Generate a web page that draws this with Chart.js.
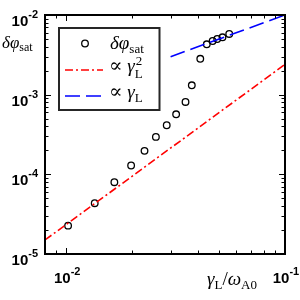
<!DOCTYPE html>
<html>
<head>
<meta charset="utf-8">
<script src="https://cdn.jsdelivr.net/npm/chart.js@4"></script>
<style>
html, body { margin: 0; padding: 0; background: #fff; }
#wrap { width: 300px; height: 300px; }
</style>
</head>
<body>
<div id="wrap"><canvas id="chart"></canvas></div>
<script>
// values (log-log axes)
const gammaL = [0.0102, 0.0135, 0.0166, 0.0198, 0.0228, 0.0257, 0.0288, 0.0318,
                0.0351, 0.0375, 0.0410, 0.0439, 0.0467, 0.0490, 0.0518, 0.0556];
const dPhiSat = [2.27e-5, 4.34e-5, 7.97e-5, 1.29e-4, 1.97e-4, 2.95e-4, 4.13e-4, 5.67e-4,
                 8.1e-4, 1.31e-3, 2.82e-3, 4.29e-3, 4.72e-3, 5.0e-3, 5.25e-3, 5.78e-3];
// guide lines, end points only
const quadX = [0.008, 0.1];
const quadY = [1.5e-5, 2.4e-3];
const linX = [0.03, 0.1];
const linY = [3.0e-3, 1.0e-2];
// labelled decades
const xTickVals = [1e-2, 1e-1];
const yTickVals = [1e-5, 1e-4, 1e-3, 1e-2];

const SERIF = '"Liberation Serif", "DejaVu Serif", serif';
const SANS = '"Liberation Sans", Arial, sans-serif';
const RED_DASH = [8, 3, 2, 3];
const BLUE_DASH = [15, 6];

function toPts(xs, ys) {
    return xs.map((x, i) => ({ x: x, y: ys[i] }));
}

// draw a run of text pieces: [text, font, dy]
function drawRun(ctx, x, y, parts) {
    parts.forEach(p => {
        ctx.font = p[1];
        ctx.fillText(p[0], x, y + (p[2] || 0));
        x += ctx.measureText(p[0]).width;
    });
    return x;
}
function runWidth(ctx, parts) {
    let w = 0;
    parts.forEach(p => { ctx.font = p[1]; w += ctx.measureText(p[0]).width; });
    return w;
}
function decadeParts(v) {
    const e = Math.round(Math.log10(v));
    return [['10', 'bold 15px ' + SANS, 0], [String(e), 'bold 11px ' + SANS, -8]];
}

const framePlugin = {
    id: 'frame',
    afterDraw(chart) {
        const ctx = chart.ctx;
        const a = chart.chartArea;
        const xs = chart.scales.x, ys = chart.scales.y;
        ctx.save();
        ctx.fillStyle = '#000';
        ctx.strokeStyle = '#000';

        // minor / major ticks, inside, on all four sides
        ctx.lineWidth = 1;
        ctx.beginPath();
        for (let d = -3; d <= -1; d++) {
            for (let k = 1; k <= 9; k++) {
                const v = k * Math.pow(10, d);
                if (v < xs.min * 0.999 || v > xs.max * 1.001) continue;
                const px = Math.round(xs.getPixelForValue(v)) + 0.5;
                const len = k === 1 ? 6 : 3.5;
                ctx.moveTo(px, a.bottom); ctx.lineTo(px, a.bottom - len);
                ctx.moveTo(px, a.top); ctx.lineTo(px, a.top + len);
            }
        }
        for (let d = -5; d <= -2; d++) {
            for (let k = 1; k <= 9; k++) {
                const v = k * Math.pow(10, d);
                if (v < ys.min * 0.999 || v > ys.max * 1.001) continue;
                const py = Math.round(ys.getPixelForValue(v)) + 0.5;
                const len = k === 1 ? 6 : 3.5;
                ctx.moveTo(a.left, py); ctx.lineTo(a.left + len, py);
                ctx.moveTo(a.right, py); ctx.lineTo(a.right - len, py);
            }
        }
        ctx.stroke();

        // axes box
        ctx.lineWidth = 2;
        ctx.strokeRect(a.left, a.top, a.right - a.left, a.bottom - a.top);

        // tick labels
        ctx.textBaseline = 'alphabetic';
        yTickVals.forEach(v => {
            const py = ys.getPixelForValue(v);
            const parts = decadeParts(v);
            const w = runWidth(ctx, parts);
            drawRun(ctx, a.left - 7 - w, py + 11, parts);
        });
        xTickVals.forEach(v => {
            const px = xs.getPixelForValue(v);
            const parts = decadeParts(v);
            const w = runWidth(ctx, parts);
            drawRun(ctx, px - w / 2 + 1, a.bottom + 29, parts);
        });

        // axis titles
        drawRun(ctx, 2, 48, [
            ['\u03b4\u03c6', 'italic 17px ' + SERIF, 0],
            ['sat', '12px ' + SERIF, 2.5]
        ]);
        drawRun(ctx, 207, 285, [
            ['\u03b3', 'italic 19px ' + SERIF, 0],
            ['L', '13px ' + SERIF, 3.5],
            ['/', '19px ' + SERIF, 0],
            ['\u03c9', 'italic 19px ' + SERIF, 0],
            ['A0', '13px ' + SERIF, 3.5]
        ]);

        // legend
        const L = { x: 59, y: 28, w: 100.5, h: 82 };
        ctx.fillStyle = '#fff';
        ctx.fillRect(L.x, L.y, L.w, L.h);
        ctx.strokeStyle = '#262626';
        ctx.lineWidth = 2;
        ctx.strokeRect(L.x, L.y, L.w, L.h);

        ctx.strokeStyle = '#000';
        ctx.lineWidth = 1.3;
        ctx.beginPath();
        ctx.arc(85, 43.5, 3.3, 0, Math.PI * 2);
        ctx.stroke();

        ctx.lineWidth = 1.6;
        ctx.strokeStyle = '#ff0000';
        ctx.setLineDash(RED_DASH);
        ctx.beginPath(); ctx.moveTo(65, 70); ctx.lineTo(103, 70); ctx.stroke();
        ctx.strokeStyle = '#0000ff';
        ctx.setLineDash(BLUE_DASH);
        ctx.beginPath(); ctx.moveTo(65, 96); ctx.lineTo(103, 96); ctx.stroke();
        ctx.setLineDash([]);

        ctx.fillStyle = '#000';
        drawRun(ctx, 110, 48.5, [
            ['\u03b4\u03c6', 'italic 19px ' + SERIF, 0],
            ['sat', '13px ' + SERIF, 4]
        ]);
        let x2 = drawRun(ctx, 109, 72, [
            ['\u221d', '20px ' + SERIF, 0],
            [' \u03b3', 'italic 19px ' + SERIF, 0]
        ]);
        ctx.font = '13px ' + SERIF;
        ctx.fillText('2', x2 + 1, 65);
        ctx.fillText('L', x2, 77.5);
        drawRun(ctx, 109, 98, [
            ['\u221d', '20px ' + SERIF, 0],
            [' \u03b3', 'italic 19px ' + SERIF, 0],
            ['L', '13px ' + SERIF, 4]
        ]);
        ctx.restore();
    }
};

new Chart(document.getElementById('chart'), {
    type: 'scatter',
    data: {
        datasets: [
            {
                label: 'quad',
                data: toPts(quadX, quadY),
                showLine: true,
                borderColor: '#ff0000',
                borderWidth: 1.6,
                borderDash: RED_DASH,
                pointRadius: 0
            },
            {
                label: 'lin',
                data: toPts(linX, linY),
                showLine: true,
                borderColor: '#0000ff',
                borderWidth: 1.6,
                borderDash: BLUE_DASH,
                pointRadius: 0
            },
            {
                label: 'dphi',
                data: toPts(gammaL, dPhiSat),
                showLine: false,
                pointRadius: 3.3,
                pointBorderWidth: 1.3,
                pointBorderColor: '#000',
                pointBackgroundColor: 'rgba(0,0,0,0)'
            }
        ]
    },
    options: {
        responsive: true,
        maintainAspectRatio: false,
        animation: false,
        layout: { padding: { left: 45, right: 15, top: 15, bottom: 46 } },
        plugins: {
            legend: { display: false },
            tooltip: { enabled: false }
        },
        scales: {
            x: {
                type: 'logarithmic',
                min: 0.008,
                max: 0.1,
                ticks: { display: false },
                grid: { display: false, drawTicks: false },
                border: { display: false }
            },
            y: {
                type: 'logarithmic',
                min: 1e-5,
                max: 1e-2,
                ticks: { display: false },
                grid: { display: false, drawTicks: false },
                border: { display: false }
            }
        }
    },
    plugins: [framePlugin]
});
</script>
</body>
</html>
